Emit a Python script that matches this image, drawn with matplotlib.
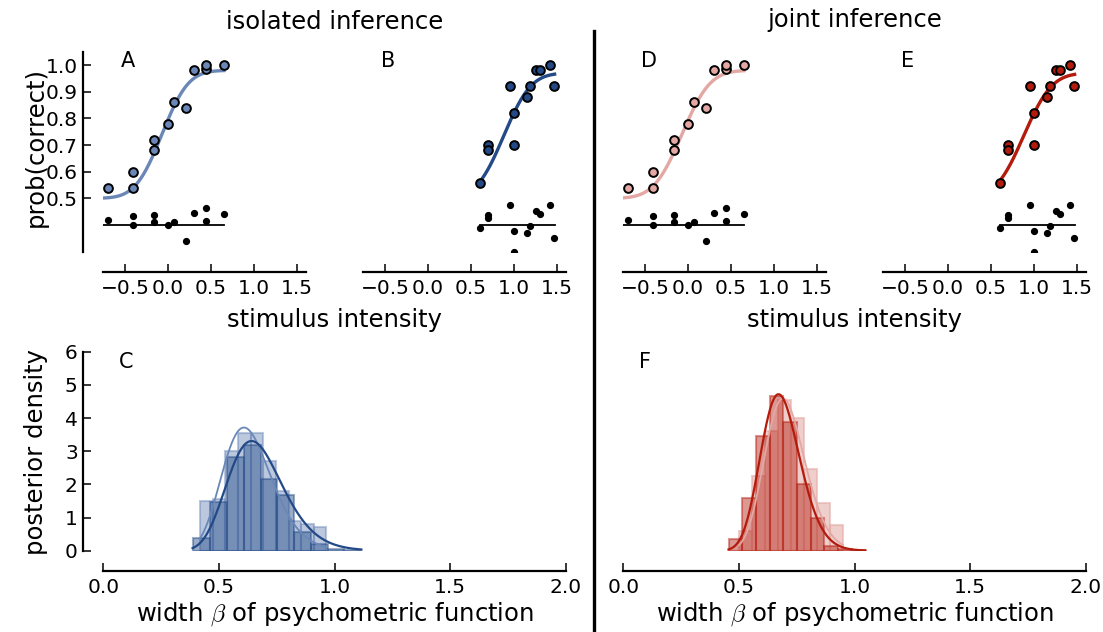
import numpy as np
import matplotlib
matplotlib.use("Agg")
import matplotlib.pyplot as plt
from matplotlib.lines import Line2D
from math import erf, sqrt

# ---------------- data ----------------
# condition 1 (panels A / D): stimulus intensity, prob(correct), residual marker position
x_low = [-0.70, -0.40, -0.40, -0.16, -0.16, 0.00, 0.066, 0.21, 0.30, 0.445, 0.445, 0.65]
p_low = [0.54, 0.54, 0.60, 0.68, 0.72, 0.78, 0.86, 0.84, 0.98, 0.985, 1.00, 1.00]
r_low = [0.417, 0.401, 0.432, 0.413, 0.438, 0.401, 0.413, 0.339, 0.445, 0.414, 0.464, 0.442]

# condition 2 (panels B / E)
x_high = [0.604, 0.70, 0.70, 0.955, 1.00, 1.00, 1.146, 1.18, 1.255, 1.306, 1.415, 1.46]
p_high = [0.559, 0.70, 0.68, 0.92, 0.82, 0.70, 0.88, 0.92, 0.98, 0.98, 1.00, 0.92]
r_high = [0.388, 0.436, 0.426, 0.476, 0.379, 0.30, 0.369, 0.398, 0.451, 0.442, 0.476, 0.350]

resid_base = 0.40

# fitted psychometric functions: threshold, width, lapse, x-range of the drawn curve
fit_A = dict(alpha=-0.07, beta=0.62, lapse=0.02, lo=-0.75, hi=0.65)
fit_B = dict(alpha=0.88, beta=0.64, lapse=0.03, lo=0.604, hi=1.47)
fit_D = dict(alpha=-0.07, beta=0.66, lapse=0.02, lo=-0.75, hi=0.65)
fit_E = dict(alpha=0.88, beta=0.66, lapse=0.03, lo=0.604, hi=1.47)

# posterior histograms for width beta (bin edges, densities)
histC_A_edges = [0.418, 0.473, 0.527, 0.582, 0.637, 0.691, 0.746, 0.801, 0.856, 0.910, 0.965]
histC_A_dens = [1.50, 1.55, 3.00, 3.55, 3.55, 2.70, 1.80, 0.90, 0.80, 0.70]
histC_B_edges = [0.389, 0.462, 0.534, 0.607, 0.680, 0.753, 0.825, 0.898, 0.971, 1.043, 1.116]
histC_B_dens = [0.39, 1.47, 2.83, 3.20, 2.15, 1.68, 0.55, 0.20, 0.05, 0.02]

histF_E_edges = [0.455, 0.514, 0.573, 0.633, 0.692, 0.751, 0.810, 0.870, 0.929, 0.988, 1.047]
histF_E_dens = [0.34, 1.60, 3.46, 4.66, 3.89, 2.00, 1.00, 0.15, 0.05, 0.02]
histF_D_edges = [0.500, 0.556, 0.612, 0.668, 0.724, 0.780, 0.836, 0.892, 0.948]
histF_D_dens = [0.60, 2.25, 3.60, 4.55, 4.00, 2.45, 1.45, 0.77]

# log-normal density fits (mu, sigma, range)
densC_A = dict(mu=-0.4673, s=0.174, lo=0.418, hi=0.965)
densC_B = dict(mu=-0.4105, s=0.185, lo=0.386, hi=1.116)
densF_D = dict(mu=-0.355, s=0.125, lo=0.50, hi=0.95)
densF_E = dict(mu=-0.383, s=0.125, lo=0.455, hi=1.047)

col_A = '#6a87b7'
col_B = '#234a87'
col_D = '#e3a8a3'
col_E = '#b31b0d'

# ---------------- helpers ----------------
DPI = 100
W, H = 1103, 632


def fx(px):
    return px / W


def fy(py):
    return 1 - py / H


def psy(x, alpha, beta, lapse, **kw):
    sigma = beta / (2 * 1.2816)
    F = np.array([0.5 * (1 + erf((v - alpha) / (sigma * sqrt(2)))) for v in x])
    return 0.5 + (1 - 0.5 - lapse) * F


def lognorm(x, mu, s, **kw):
    return np.exp(-(np.log(x) - mu) ** 2 / (2 * s ** 2)) / (x * s * np.sqrt(2 * np.pi))


plt.rcParams['font.family'] = ['DejaVu Sans']
plt.rcParams['mathtext.fontset'] = 'cm'
fig = plt.figure(figsize=(W / DPI, H / DPI), dpi=DPI)

OFF = 20 * 72 / DPI  # outward spine offset in points
TICK_FS = 14.5
LAB_FS = 17.5


def style(ax, show_y):
    for s in ['top', 'right']:
        ax.spines[s].set_visible(False)
    ax.spines['bottom'].set_position(('outward', OFF))
    ax.spines['left'].set_position(('outward', OFF))
    for s in ['bottom', 'left']:
        ax.spines[s].set_linewidth(1.6)
    ax.tick_params(direction='in', length=5.8, width=1.1, labelsize=TICK_FS)
    ax.tick_params(axis='x', pad=5.5)
    ax.tick_params(axis='y', pad=4)
    if not show_y:
        ax.spines['left'].set_visible(False)
        ax.tick_params(left=False, labelleft=False)
    ax.patch.set_visible(False)


top_y0, top_h = fy(251.7), (251.7 - 51.7) / H
lefts_top = [103.3, 363.3, 623.3, 883.3]
panels = [(x_low, p_low, r_low, fit_A, col_A),
          (x_high, p_high, r_high, fit_B, col_B),
          (x_low, p_low, r_low, fit_D, col_D),
          (x_high, p_high, r_high, fit_E, col_E)]
letters_top = ['A', 'B', 'D', 'E']

for i, (xs, ps, rs, fit, col) in enumerate(panels):
    ax = fig.add_axes([fx(lefts_top[i]), top_y0, 202.5 / W, top_h])
    style(ax, show_y=(i == 0))
    xx = np.linspace(fit['lo'], fit['hi'], 200)
    ax.plot(xx, psy(xx, **fit), color=col, lw=2.4, zorder=2)
    ax.plot(xs, ps, 'o', ms=6.3, mfc=col, mec='black', mew=1.4, zorder=3, clip_on=False)
    ax.plot([fit['lo'], fit['hi']], [resid_base, resid_base], color='black', lw=1.3, zorder=2)
    ax.plot(xs, rs, 'o', ms=4.2, mfc='black', mec='black', zorder=3)
    ax.set_xlim(-0.75, 1.6)
    ax.set_ylim(0.30, 1.05)
    ax.set_xticks([-0.5, 0.0, 0.5, 1.0, 1.5])
    ax.set_yticks([0.5, 0.6, 0.7, 0.8, 0.9, 1.0])
    fig.text(fx(lefts_top[i] + 18), fy(66.7), letters_top[i], fontsize=15, ha='left', va='baseline')

bot_y0, bot_h = fy(550.7), (550.7 - 351.7) / H
hists = [
    ([(histC_A_edges, histC_A_dens, col_A, 0.45), (histC_B_edges, histC_B_dens, col_B, 0.45)],
     [(densC_A, col_A, 1.3), (densC_B, col_B, 1.6)], 103.3, 'C'),
    ([(histF_D_edges, histF_D_dens, col_D, 0.55), (histF_E_edges, histF_E_dens, col_E, 0.45)],
     [(densF_D, col_D, 1.3), (densF_E, col_E, 1.6)], 623.3, 'F'),
]
for j, (hs, ds, left, letter) in enumerate(hists):
    ax = fig.add_axes([fx(left), bot_y0, 462.5 / W, bot_h])
    style(ax, show_y=(j == 0))
    for edges, dens, col, a in hs:
        e = np.array(edges)
        ax.bar(e[:-1], dens, width=np.diff(e), align='edge', color=col, alpha=a,
               edgecolor=col, linewidth=1.5)
    for d, col, lw in ds:
        xx = np.linspace(d['lo'], d['hi'], 200)
        ax.plot(xx, lognorm(xx, **d), color=col, lw=lw)
    ax.set_xlim(0, 2)
    ax.set_ylim(0, 6)
    ax.set_xticks([0.0, 0.5, 1.0, 1.5, 2.0])
    ax.set_yticks([0, 1, 2, 3, 4, 5, 6])
    fig.text(fx(left + 16), fy(368), letter, fontsize=15, ha='left', va='baseline')

# labels and titles
fig.text(fx(36), fy(147), 'prob(correct)', rotation=90, fontsize=LAB_FS, ha='center', va='center')
fig.text(fx(36), fy(452), 'posterior density', rotation=90, fontsize=LAB_FS, ha='center', va='center')
for cx in [334.5, 854.5]:
    fig.text(fx(cx), fy(327), 'stimulus intensity', fontsize=LAB_FS, ha='center', va='baseline')
    fig.text(fx(cx), fy(621), r'width $\beta$ of psychometric function', fontsize=LAB_FS,
             ha='center', va='baseline')
fig.text(fx(334.5), fy(29), 'isolated inference', fontsize=LAB_FS, ha='center', va='baseline')
fig.text(fx(854.5), fy(27), 'joint inference', fontsize=LAB_FS, ha='center', va='baseline')

fig.add_artist(Line2D([fx(594.3), fx(594.3)], [fy(30.7), fy(632)], color='black', lw=2.4))

fig.savefig('out.png', dpi=DPI)
